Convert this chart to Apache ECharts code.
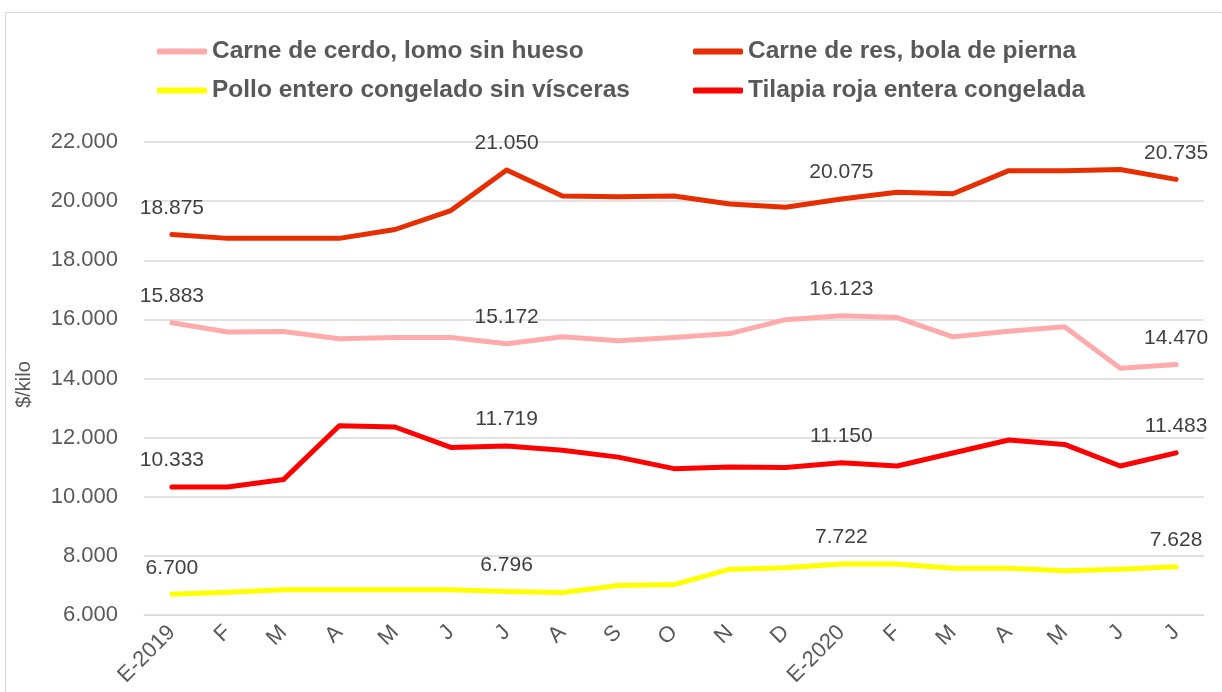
<!DOCTYPE html>
<html>
<head>
<meta charset="utf-8">
<script src="https://cdn.jsdelivr.net/npm/echarts@6/dist/echarts.min.js"></script>
<style>
html,body{margin:0;padding:0;background:#fff;}
#chart{width:1222px;height:692px;}
</style>
</head>
<body>
<div id="chart"></div>
<script>
// ---- data ----
var categories = ['E-2019','F','M','A','M','J','J','A','S','O','N','D','E-2020','F','M','A','M','J','J'];
var seriesNames = ['Carne de cerdo, lomo sin hueso','Carne de res, bola de pierna','Pollo entero congelado sin vísceras','Tilapia roja entera congelada'];
var cerdo   = [15883,15570,15590,15345,15390,15390,15172,15410,15280,15390,15520,15990,16123,16060,15410,15600,15750,14350,14470];
var res     = [18875,18740,18740,18740,19040,19680,21050,20170,20150,20170,19900,19790,20075,20300,20250,21030,21030,21070,20735];
var pollo   = [6700,6770,6850,6850,6850,6850,6796,6760,7000,7030,7550,7600,7722,7722,7580,7580,7500,7550,7628];
var tilapia = [10333,10333,10580,12400,12360,11670,11719,11575,11340,10950,11010,10990,11150,11040,11480,11920,11770,11040,11483];
var labeledIdx = [0,6,12,18];
var yTicks = {min:6000, max:22000, interval:2000};
var yAxisTitle = '$/kilo';

// ---- styling ----
var FONT = "'Liberation Sans', Arial, sans-serif";
var colors = ['#FFABAB','#E62E00','#FFFF00','#FF0000'];

function fmt(v){
  return String(Math.round(v)).replace(/\B(?=(\d{3})+(?!\d))/g,'.');
}

function mkSeries(name, values, color){
  return {
    name: name,
    type: 'line',
    data: values,
    symbol: 'circle',
    symbolSize: 0.01,
    showSymbol: true,
    showAllSymbol: true,
    lineStyle: {color: color, width: 5, cap: 'round', join: 'round'},
    itemStyle: {color: color},
    label: {
      show: true,
      position: 'top',
      distance: 16,
      fontFamily: FONT,
      fontSize: 21,
      color: '#404040',
      formatter: function(p){ return labeledIdx.indexOf(p.dataIndex) >= 0 ? fmt(p.value) : ''; }
    },
    labelLayout: {hideOverlap: false},
    emphasis: {disabled: true},
    animation: false
  };
}

var legendCommon = {
  orient: 'vertical',
  top: 34,
  itemWidth: 50,
  itemHeight: 6,
  itemGap: 14,
  icon: 'roundRect',
  textStyle: {fontFamily: FONT, fontSize: 24.5, fontWeight: 'bold', color: '#595959', lineHeight: 24},
  selectedMode: false
};

var chart = echarts.init(document.getElementById('chart'), null, {renderer: 'canvas'});
chart.setOption({
  backgroundColor: '#ffffff',
  animation: false,
  color: colors,
  graphic: [{
    type: 'rect',
    shape: {x: 5.5, y: 12.5, width: 1260, height: 720},
    style: {fill: 'none', stroke: '#D9D9D9', lineWidth: 1},
    silent: true,
    z: -10
  }],
  legend: [
    Object.assign({}, legendCommon, {left: 152, data: [seriesNames[0], seriesNames[2]]}),
    Object.assign({}, legendCommon, {left: 688, data: [seriesNames[1], seriesNames[3]]})
  ],
  grid: {left: 144, right: 18, top: 142, bottom: 77},
  xAxis: {
    type: 'category',
    data: categories,
    boundaryGap: true,
    axisLine: {show: true, lineStyle: {color: '#D9D9D9', width: 1}},
    axisTick: {show: false},
    axisLabel: {interval: 0, rotate: 45, margin: 14, fontFamily: FONT, fontSize: 22, color: '#595959'}
  },
  yAxis: {
    type: 'value',
    min: yTicks.min,
    max: yTicks.max,
    interval: yTicks.interval,
    name: yAxisTitle,
    nameLocation: 'middle',
    nameGap: 110,
    nameRotate: 90,
    nameTextStyle: {fontFamily: FONT, fontSize: 20, color: '#595959', padding: [0, 12, 0, 0]},
    axisLine: {show: false},
    axisTick: {show: false},
    splitLine: {lineStyle: {color: '#D9D9D9', width: 1.5}},
    axisLabel: {margin: 26, fontFamily: FONT, fontSize: 22, color: '#595959', formatter: fmt}
  },
  series: [
    mkSeries(seriesNames[0], cerdo, colors[0]),
    mkSeries(seriesNames[1], res, colors[1]),
    mkSeries(seriesNames[2], pollo, colors[2]),
    mkSeries(seriesNames[3], tilapia, colors[3])
  ]
});
</script>
</body>
</html>
